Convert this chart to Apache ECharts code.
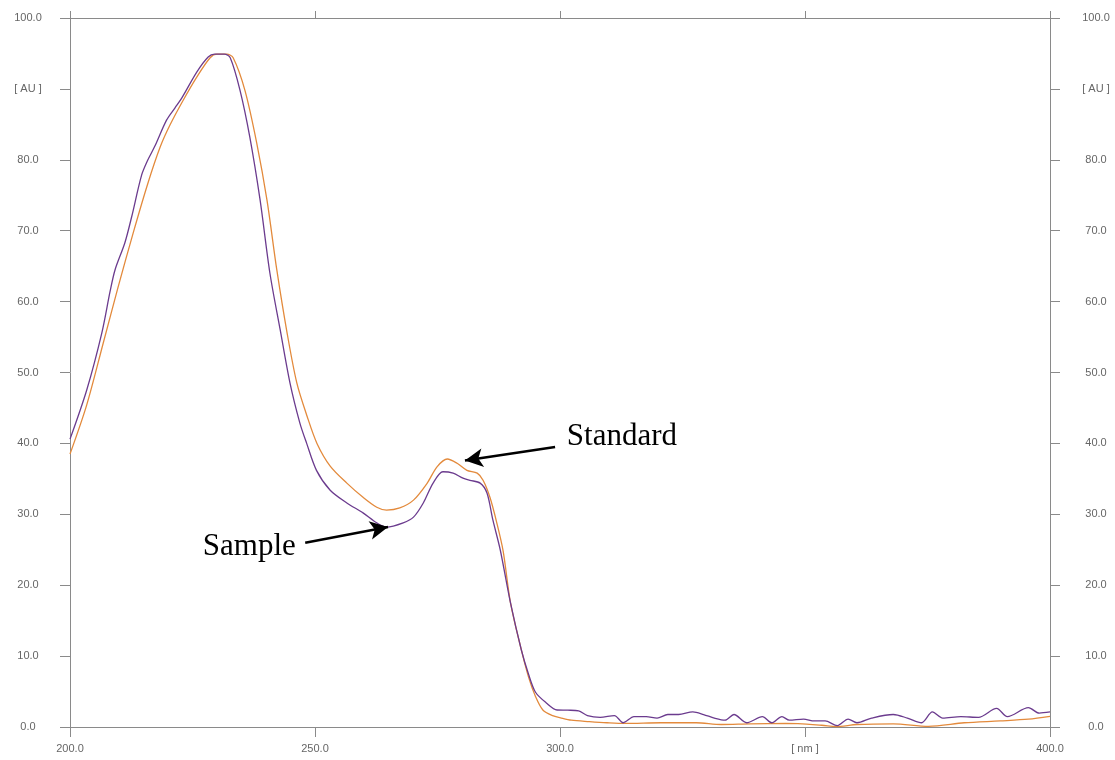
<!DOCTYPE html>
<html>
<head>
<meta charset="utf-8">
<script src="https://cdn.jsdelivr.net/npm/echarts@6/dist/echarts.min.js"></script>
<style>
html,body{margin:0;padding:0;background:#fff;}
#chart{width:1115px;height:760px;}
</style>
</head>
<body>
<div id="chart"></div>
<script>
// ---- data (wavelength nm, absorbance) ----
const sampleNm = [200,203.4,206.5,208.2,209.2,211.2,212.6,214.6,215.9,217.3,219.7,221.4,222.8,225.9,228.2,229.5,231.5,232.7,234.7,236.7,238.8,240.8,242.9,244.9,246.9,248.3,250.3,253.1,256.5,259.8,262.6,264.6,268,270.1,272.1,274.1,276.1,278.2,280.2,281.6,283.7,285.1,286.3,287.8,289.9,292.1,293.6,295.0,297.2,299.4,301.6,303.8,305.6,308.2,311.1,312.9,315.1,317.6,319.8,322.0,324.2,327.1,329.3,331.5,333.7,335.5,338.1,341.3,343.2,345.3,346.8,349.7,351.9,354.1,356.6,358.8,360.6,363.6,368.0,370.9,373.8,376.0,378.1,381.8,385.4,389.1,391.3,395.6,397.8,400];
const sampleAbs = [40.6,47.5,55.6,61.5,64.5,68.3,72,77.8,80,81.9,85.6,87.3,88.7,92.4,94.5,94.9,94.9,94.4,89.8,83.2,74.3,64,56,48.5,42.9,40,36.2,33.4,31.6,30.2,28.8,28.2,28.8,29.6,31.6,34.4,36,35.8,35.1,34.8,34.4,33,29.2,25,17.5,10.9,7.4,4.9,3.4,2.4,2.37,2.27,1.61,1.36,1.61,0.6,1.46,1.46,1.26,1.76,1.76,2.12,1.76,1.26,0.96,1.76,0.6,1.46,0.6,1.46,0.96,1.11,0.86,0.86,0.2,1.11,0.6,1.26,1.76,1.26,0.6,2.12,1.26,1.46,1.36,2.62,1.46,2.72,1.96,2.12];
const standardNm = [200,203.4,206.8,209.8,212.9,215.9,218.4,220.4,223.1,225.9,228.6,230,232,233.3,235.7,238.1,240.2,242.2,244.3,246.3,248.4,250.4,253.1,256.5,259.8,262.6,264.6,267.3,270.1,272.9,274.9,277,279,281,283.1,284.3,285.7,287.1,288.4,289.9,292.1,293.6,295.0,296.5,298.5,300.1,302.3,306,309.6,313.3,320.6,327.8,332.9,338.8,346.1,353.4,356.3,360.6,368,375.2,382.5,389.8,395.6,400];
const standardAbs = [38.5,45.4,54.2,62,69.7,76.7,81.8,84.9,88.4,91.7,94.4,94.9,94.9,94.4,89.8,82.4,74.3,64.5,55.6,48.5,43.8,40,36.8,34.4,32.4,31,30.6,30.9,32,34.4,36.7,37.8,37.2,36.2,35.8,34.8,32.4,28.8,24.8,17.5,10.9,7.0,4.3,2.4,1.6,1.3,0.96,0.76,0.6,0.5,0.6,0.6,0.35,0.45,0.5,0.25,0.05,0.35,0.45,0.1,0.6,0.86,1.1,1.5];
const xTicks = [200,250,300,350,400];
const xTickLabels = ['200.0','250.0','300.0','[ nm ]','400.0'];
const yTickLabels = ['0.0','10.0','20.0','30.0','40.0','50.0','60.0','70.0','80.0','[ AU ]','100.0'];
// annotations: text anchor (nm, abs), arrow start (nm, abs), arrow end (nm, abs)
const annStandard = {text:'Standard', at:[301.4,40.9], from:[299,39.5], to:[280.6,37.6]};
const annSample = {text:'Sample', at:[227.1,25.4], from:[248,26.0], to:[264.9,28.2]};

const pairs = (xs, ys) => xs.map((x, i) => [x, ys[i]]);
const axisGrey = '#8a8a8a';
const labelStyle = {color:'#666', fontSize:11, fontFamily:'Liberation Sans, Arial, sans-serif'};

const chart = echarts.init(document.getElementById('chart'), null, {renderer:'canvas'});

function arrowMark(a){
  return {silent:true, symbol:['none','arrow'], symbolSize:[14,18], symbolOffset:[0,0],
    label:{show:false}, emphasis:{disabled:true},
    lineStyle:{color:'#000', width:2.5, type:'solid'},
    itemStyle:{color:'#000'},
    data:[[{coord:a.from},{coord:a.to}]]};
}

chart.setOption({
  animation:false,
  backgroundColor:'#fff',
  grid:{left:70, right:65, top:18, bottom:33},
  xAxis:[
    {type:'value', position:'bottom', min:200, max:400, interval:50,
     axisLine:{show:true, onZero:false, lineStyle:{color:axisGrey, width:1}},
     axisTick:{show:true, length:10, lineStyle:{color:axisGrey}},
     axisLabel:Object.assign({margin:16, formatter:v=>xTickLabels[xTicks.indexOf(v)] || ''}, labelStyle),
     splitLine:{show:false}},
    {type:'value', position:'top', min:200, max:400, interval:50,
     axisLine:{show:true, onZero:false, lineStyle:{color:axisGrey, width:1}},
     axisTick:{show:true, length:7, lineStyle:{color:axisGrey}},
     axisLabel:{show:false}, splitLine:{show:false}}
  ],
  yAxis:[
    {type:'value', position:'left', min:0, max:100, interval:10,
     axisLine:{show:true, onZero:false, lineStyle:{color:axisGrey, width:1}},
     axisTick:{show:true, length:10, lineStyle:{color:axisGrey}},
     axisLabel:Object.assign({margin:42, align:'center', formatter:v=>yTickLabels[Math.round(v/10)]}, labelStyle),
     splitLine:{show:false}},
    {type:'value', position:'right', min:0, max:100, interval:10,
     axisLine:{show:true, onZero:false, lineStyle:{color:axisGrey, width:1}},
     axisTick:{show:true, length:10, lineStyle:{color:axisGrey}},
     axisLabel:Object.assign({margin:46, align:'center', formatter:v=>yTickLabels[Math.round(v/10)]}, labelStyle),
     splitLine:{show:false}}
  ],
  series:[
    {name:'Standard', type:'line', xAxisIndex:0, yAxisIndex:0, data:pairs(standardNm, standardAbs),
     showSymbol:false, smooth:0.3, lineStyle:{color:'#e38a3c', width:1.3}, itemStyle:{color:'#e38a3c'},
     markLine:arrowMark(annStandard)},
    {name:'Sample', type:'line', xAxisIndex:0, yAxisIndex:0, data:pairs(sampleNm, sampleAbs),
     showSymbol:false, smooth:0.3, lineStyle:{color:'#6b3b8e', width:1.3}, itemStyle:{color:'#6b3b8e'},
     markLine:arrowMark(annSample)}
  ]
});

function placeText(){
  const g = [annStandard, annSample].map(a => {
    const p = chart.convertToPixel({xAxisIndex:0, yAxisIndex:0}, a.at);
    return {type:'text', x:p[0], y:p[1], silent:true,
      style:{text:a.text, fill:'#000', font:'31px "Liberation Serif", "Times New Roman", serif',
             textAlign:'left', textVerticalAlign:'middle'}};
  });
  chart.setOption({graphic:g});
}
placeText();
</script>
</body>
</html>
